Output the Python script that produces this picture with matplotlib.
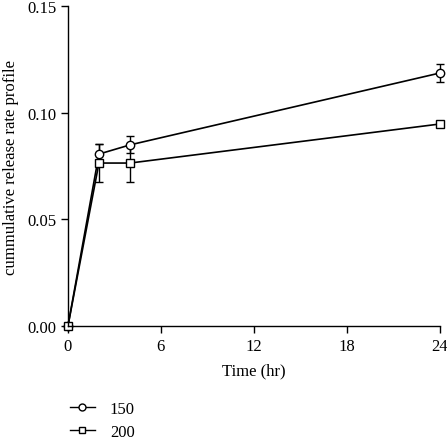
import matplotlib
matplotlib.use("Agg")
import matplotlib.pyplot as plt
from matplotlib.lines import Line2D

plt.rcParams['font.family'] = ['Liberation Serif', 'DejaVu Serif']

time_hr = [0, 2, 4, 24]
rate_150 = [0.0, 0.0806, 0.0849, 0.1186]
err_150 = [0.0, 0.0047, 0.0040, 0.0040]
rate_200 = [0.0, 0.0764, 0.0764, 0.0947]
err_200 = [0.0, 0.0090, 0.0090, 0.0005]

fig = plt.figure(figsize=(4.47, 4.39), dpi=100)
ax = fig.add_axes([0.152, 0.255, 0.832, 0.729])

style = dict(color='black', lw=1.2, ms=6, mfc='white', mec='black', mew=1.0,
             ecolor='black', elinewidth=1.0, capsize=3, capthick=1.0, clip_on=False)
ax.errorbar(time_hr, rate_150, yerr=err_150, marker='o', **style)
ax.errorbar(time_hr, rate_200, yerr=err_200, marker='s', **style)

ax.set_xlim(0, 24)
ax.set_ylim(0, 0.15)
ax.set_xticks([0, 6, 12, 18, 24])
ax.set_yticks([0, 0.05, 0.10, 0.15])
ax.set_yticklabels(['0.00', '0.05', '0.10', '0.15'])
ax.spines['top'].set_visible(False)
ax.spines['right'].set_visible(False)
for s in ('left', 'bottom'):
    ax.spines[s].set_linewidth(1.0)
ax.tick_params(direction='out', length=5, width=1.0, labelsize=12)
ax.set_xlabel('Time (hr)', fontsize=12, labelpad=6)
ax.set_ylabel('cummulative release rate profile', fontsize=12, labelpad=6)

handles = [Line2D([], [], color='black', lw=1.0, marker='o', ms=5, mfc='white', mew=1.0),
           Line2D([], [], color='black', lw=1.0, marker='s', ms=5, mfc='white', mew=1.0)]
fig.legend(handles=handles, labels=['150', '200'], loc='lower left',
           bbox_to_anchor=(0.13, -0.03), frameon=False, fontsize=12,
           handlelength=1.5, handletextpad=0.9, labelspacing=0.4,
           borderaxespad=0.3)

fig.savefig('out.png', dpi=100)
